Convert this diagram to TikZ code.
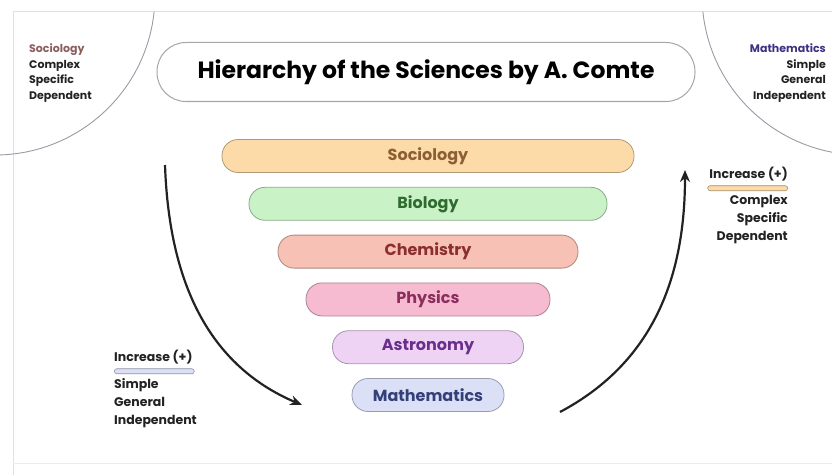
\documentclass[tikz,border=0pt]{standalone}
\usepackage{fontspec}
\setmainfont{Poppins}
\usetikzlibrary{arrows.meta, positioning}
\definecolor{framegray}{RGB}{224,224,224}
\definecolor{arcgray}{RGB}{150,156,164}
\definecolor{inkdark}{RGB}{34,34,34}
\definecolor{socfill}{RGB}{253,219,168}
\definecolor{soctext}{RGB}{139,94,52}
\definecolor{biofill}{RGB}{201,242,199}
\definecolor{biotext}{RGB}{47,107,47}
\definecolor{chemfill}{RGB}{247,193,182}
\definecolor{chemtext}{RGB}{139,46,46}
\definecolor{physfill}{RGB}{246,187,208}
\definecolor{phystext}{RGB}{139,46,94}
\definecolor{astrofill}{RGB}{238,211,245}
\definecolor{astrotext}{RGB}{106,46,139}
\definecolor{mathfill}{RGB}{220,224,247}
\definecolor{mathtext}{RGB}{51,64,122}
\definecolor{sociocorner}{RGB}{140,92,92}
\definecolor{mathcorner}{RGB}{60,50,130}
\tikzset{
    tier/.style 2 args={rectangle, rounded corners=16pt, minimum height=33pt,
                        fill=#1, draw=#1!70!black, text=#2, line width=0.8pt,
                        font=\fontsize{16}{18}\selectfont\bfseries},
    titlebox/.style={rectangle, rounded corners=29pt, minimum width=538pt,
                     minimum height=59pt, draw=gray!70, fill=white,
                     line width=1pt, font=\fontsize{23.5}{26}\selectfont\bfseries},
    cornertext/.style={font=\fontsize{11}{15.5}\selectfont\bfseries,
                       text=inkdark, inner sep=0pt},
    sidetext/.style={font=\fontsize{12.5}{18}\selectfont\bfseries,
                     text=inkdark, inner sep=0pt},
    keybar/.style={rectangle, rounded corners=2.5pt, minimum width=80pt,
                   minimum height=5pt, inner sep=0pt, fill=#1,
                   draw=#1!65!black, line width=0.6pt},
    sweep/.style={-{Stealth[length=12pt,width=10pt]}, line width=2.2pt,
                  draw=inkdark},
}
\begin{document}
\begin{tikzpicture}[x=1pt, y=1pt]
    \useasboundingbox (0,0) rectangle (832,475);

    % Frame and corner arcs
    \draw[framegray, line width=1pt] (13,0) -- (13,463) -- (832,463);
    \draw[framegray!60, line width=0.8pt] (13,12) -- (832,12);
    \draw[arcgray, line width=0.9pt] (-5,480) ++(-6:160) arc (-6:-95:160);
    \draw[arcgray, line width=0.9pt] (862,480) ++(186:160) arc (186:275:160);

    % Corner notes
    \node[cornertext, anchor=west, align=left] (socnote) at (29,402)
        {\textcolor{sociocorner}{Sociology}\\Complex\\Specific\\Dependent};
    \node[cornertext, anchor=east, align=right] (mathnote) at (826,402)
        {\textcolor{mathcorner}{Mathematics}\\Simple\\General\\Independent};

    % Title
    \node[titlebox] (title) at (426,403) {Hierarchy of the Sciences by A. Comte};

    % Levels
    \node[tier={socfill}{soctext}, minimum width=412pt] (soc) at (428,319) {Sociology};
    \node[tier={biofill}{biotext}, minimum width=358pt, below=14pt of soc] (bio) {Biology};
    \node[tier={chemfill}{chemtext}, minimum width=300pt, below=14pt of bio] (chem) {Chemistry};
    \node[tier={physfill}{phystext}, minimum width=244pt, below=14pt of chem] (phys) {Physics};
    \node[tier={astrofill}{astrotext}, minimum width=191pt, below=14pt of phys] (astro) {Astronomy};
    \node[tier={mathfill}{mathtext}, minimum width=152pt, below=14pt of astro] (math) {Mathematics};

    % Left key
    \node[sidetext, anchor=north west] (incleft) at (114,125) {Increase (+)};
    \node[keybar=mathfill, below right=4pt and 0pt of incleft.south west] (barleft) {};
    \node[sidetext, align=left, below right=4pt and 0pt of barleft.south west]
        (propleft) {Simple\\General\\Independent};

    % Right key
    \node[sidetext, anchor=north east] (incright) at (788,308) {Increase (+)};
    \node[keybar=socfill, below left=4pt and 0pt of incright.south east] (barright) {};
    \node[sidetext, align=right, below left=4pt and 0pt of barright.south east]
        (propright) {Complex\\Specific\\Dependent};

    % Sweeping arrows
    \coordinate (downstart) at (165,310);
    \coordinate (downend) at (302,70);
    \draw[sweep] (downstart) to[out=-88, in=157] (downend);
    \coordinate (upstart) at (560,63);
    \coordinate (upend) at (685,305);
    \draw[sweep] (upstart) to[out=28, in=-90] (upend);
\end{tikzpicture}
\end{document}
